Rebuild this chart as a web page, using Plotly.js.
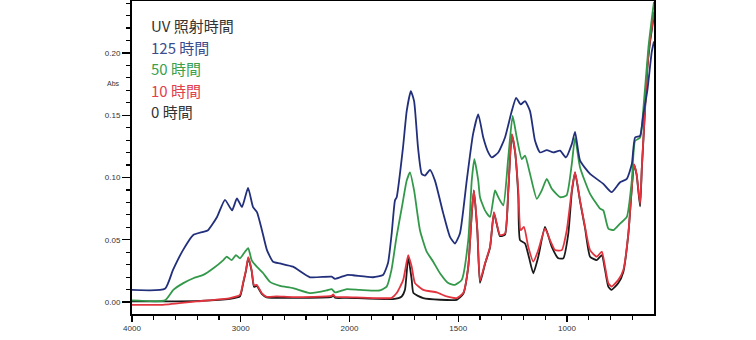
<!DOCTYPE html>
<html><head><meta charset="utf-8">
<script src="https://cdn.plot.ly/plotly-3.0.1.min.js"></script>
<style>html,body{margin:0;padding:0;background:#fff;}#chart{width:756px;height:340px;}</style>
</head><body><div id="chart"></div>
<script>
// Wavenumber (cm-1) and absorbance arrays for each UV exposure time
const wn125 = [4000,3697,3623,3531,3439,3347,3301,3218,3145,3080,3035,2989,2933,2887,2851,2805,2759,2703,2639,2520,2363,2164,2133,2025,1984,1892,1846,1823,1806,1791,1783,1754,1737,1718,1703,1685,1668,1653,1630,1607,1569,1538,1515,1492,1461,1432,1408,1385,1362,1346,1316,1285,1254,1234,1213,1193,1170,1147,1124,1093,1063,1032,1005,978,963,940,894,833,795,756,725,702,687,664,649,631,610,600];
const abs125 = [0.0098,0.0106,0.0258,0.0417,0.0537,0.0563,0.0577,0.0683,0.0821,0.0736,0.0832,0.0762,0.0917,0.0762,0.0722,0.0577,0.0417,0.0324,0.0310,0.0284,0.0199,0.0204,0.0186,0.0217,0.0215,0.0199,0.0217,0.0313,0.0552,0.0816,0.0842,0.1241,0.1533,0.1693,0.1613,0.1241,0.1029,0.1015,0.1061,0.0975,0.0712,0.0523,0.0470,0.0553,0.0975,0.1348,0.1507,0.1321,0.1201,0.1161,0.1201,0.1321,0.1533,0.1640,0.1587,0.1613,0.1533,0.1294,0.1201,0.1220,0.1201,0.1215,0.1161,0.1268,0.1366,0.1135,0.1029,0.0949,0.0882,0.0962,0.0989,0.1108,0.1321,0.1334,0.1507,0.1693,0.2012,0.2092];

const wn50 = [4000,3697,3620,3528,3436,3344,3252,3160,3129,3083,3044,3007,2961,2931,2900,2853,2793,2731,2639,2520,2363,2210,2164,2133,2025,1952,1860,1829,1807,1784,1756,1737,1722,1703,1676,1645,1615,1584,1546,1515,1484,1454,1438,1426,1408,1400,1377,1354,1331,1316,1293,1270,1250,1231,1208,1193,1170,1139,1116,1093,1070,1032,1002,978,963,940,894,848,833,810,787,756,725,702,687,664,646,626,606,600];
const abs50 = [0.0013,0.0013,0.0098,0.0152,0.0191,0.0218,0.0271,0.0337,0.0364,0.0337,0.0377,0.0351,0.0404,0.0433,0.0337,0.0284,0.0231,0.0162,0.0130,0.0112,0.0072,0.0093,0.0104,0.0077,0.0104,0.0098,0.0093,0.0124,0.0258,0.0521,0.0792,0.0975,0.1041,0.0896,0.0577,0.0404,0.0324,0.0231,0.0152,0.0138,0.0178,0.0497,0.0975,0.1148,0.0975,0.0842,0.0736,0.0683,0.0896,0.0842,0.0776,0.1161,0.1494,0.1321,0.1148,0.1175,0.1029,0.0829,0.0896,0.0989,0.0909,0.0842,0.0856,0.1108,0.1318,0.1081,0.0869,0.0750,0.0736,0.0590,0.0577,0.0630,0.0683,0.0975,0.1294,0.1321,0.1614,0.2038,0.2331,0.2410];

const wn10 = [4000,3715,3405,3099,3007,2977,2952,2931,2900,2878,2853,2807,2761,2669,2520,2164,2149,2133,2025,1891,1806,1783,1753,1730,1714,1699,1661,1599,1553,1507,1477,1454,1438,1428,1412,1400,1377,1354,1336,1323,1308,1285,1270,1254,1239,1224,1213,1198,1178,1155,1132,1101,1078,1055,1024,1001,978,963,940,917,894,863,840,825,810,795,764,741,718,702,692,680,664,656,646,631,619,606,600];
const abs10 = [-0.0022,-0.0022,0.0005,0.0032,0.0058,0.0162,0.0258,0.0361,0.0258,0.0134,0.0138,0.0072,0.0042,0.0045,0.0040,0.0050,0.0062,0.0042,0.0040,0.0032,0.0034,0.0072,0.0178,0.0377,0.0284,0.0152,0.0098,0.0077,0.0045,0.0032,0.0072,0.0284,0.0710,0.0896,0.0577,0.0170,0.0311,0.0443,0.0722,0.0630,0.0537,0.0550,0.0896,0.1348,0.1215,0.0896,0.0577,0.0603,0.0443,0.0324,0.0417,0.0590,0.0497,0.0417,0.0417,0.0577,0.0896,0.1043,0.0816,0.0603,0.0417,0.0364,0.0404,0.0284,0.0152,0.0124,0.0178,0.0258,0.0550,0.0922,0.1108,0.1029,0.0789,0.1081,0.1400,0.1879,0.2092,0.2251,0.2331];

const wn0 = [4000,3697,3375,3099,3007,2977,2952,2931,2900,2878,2853,2807,2761,2520,2164,2149,2133,2025,1800,1760,1745,1730,1714,1706,1661,1507,1477,1454,1438,1428,1412,1400,1377,1354,1336,1323,1308,1285,1270,1254,1239,1224,1216,1193,1174,1155,1132,1101,1070,1040,1017,994,978,963,940,917,894,863,840,825,810,795,764,741,718,702,692,680,664,656,646,631,619,606,600];
const abs0 = [0.0006,0.0006,0.0010,0.0026,0.0046,0.0154,0.0250,0.0353,0.0250,0.0122,0.0130,0.0066,0.0038,0.0034,0.0042,0.0054,0.0034,0.0034,0.0024,0.0045,0.0098,0.0361,0.0178,0.0072,0.0032,0.0018,0.0066,0.0284,0.0710,0.0896,0.0561,0.0154,0.0306,0.0437,0.0716,0.0624,0.0529,0.0541,0.0888,0.1342,0.1207,0.0856,0.0497,0.0470,0.0353,0.0231,0.0364,0.0603,0.0443,0.0351,0.0351,0.0550,0.0880,0.1039,0.0808,0.0593,0.0364,0.0337,0.0377,0.0258,0.0124,0.0098,0.0152,0.0242,0.0545,0.0915,0.1103,0.1023,0.0768,0.1071,0.1390,0.1868,0.2076,0.2235,0.2315];

const majorTicks = [4000,3000,2000,1500,1000];
const legendTitle = "UV 照射時間";
const seriesNames = ["125 時間","50 時間","10 時間","0 時間"];
const yLabel = "Abs";

// Instrument-style axis: scale doubles below 2000 cm-1
function toU(w){ return w >= 2000 ? (4000 - w) : (2000 + (2000 - w) * 2); }

const minorW = [];
for (let w = 3800; w > 2000; w -= 200) minorW.push(w);
for (let w = 1900; w >= 700; w -= 100) minorW.push(w);

const cBlue = '#22307c', cGreen = '#33994a', cRed = '#e2343e', cBlack = '#1a1a1a';
function tr(wn, ab, color){
  return {x: wn.map(toU), y: ab, type:'scatter', mode:'lines',
    line:{color:color, width:1.8, shape:'spline', smoothing:0.5}, showlegend:false, hoverinfo:'skip'};
}
const data = [tr(wn0,abs0,cBlack), tr(wn10,abs10,cRed), tr(wn50,abs50,cGreen), tr(wn125,abs125,cBlue)];

const ann = [];
const legColors = ['#3b4d8c','#3aa04c','#e2404c','#333333'];
ann.push({xref:'paper', yref:'paper', x:17/522, y:1-24/313, xanchor:'left', yanchor:'middle', text:legendTitle, showarrow:false, font:{size:15, color:'#333', family:'Noto Sans CJK JP'}});
seriesNames.forEach((n,i)=>{
  ann.push({xref:'paper', yref:'paper', x:17/522, y:1-(46+i*21.5)/313, xanchor:'left', yanchor:'middle', text:n, showarrow:false, font:{size:15, color:legColors[i], family:'Noto Sans CJK JP'}});
});
ann.push({xref:'paper', yref:'paper', x:-19/522, y:1-82/313, xanchor:'center', yanchor:'middle', text:yLabel, showarrow:false, font:{size:7, color:'#333', family:'Liberation Sans'}});

const layout = {
  width:756, height:340,
  margin:{l:132, r:102, t:1, b:26, pad:0},
  paper_bgcolor:'#fff', plot_bgcolor:'#fff',
  xaxis:{range:[0,4800], tickmode:'array', tickvals:majorTicks.map(toU), ticktext:majorTicks.map(String),
    showgrid:false, zeroline:false, showline:true, linecolor:'#000', linewidth:1.5, mirror:true,
    ticks:'outside', ticklen:6, tickwidth:1.3, tickcolor:'#000',
    tickfont:{size:8, color:'#333', family:'Liberation Sans'},
    minor:{tickmode:'array', tickvals:minorW.map(toU), ticks:'outside', ticklen:4, tickwidth:1.2, tickcolor:'#000', showgrid:false}},
  yaxis:{range:[-0.0096,0.2417], tickmode:'array', tickvals:[0,0.05,0.10,0.15,0.20], ticktext:['0.00','0.05','0.10','0.15','0.20'],
    showgrid:false, zeroline:false, showline:true, linecolor:'#000', linewidth:2, mirror:true,
    ticks:'outside', ticklen:8, tickwidth:1.3, tickcolor:'#000',
    tickfont:{size:8, color:'#333', family:'Liberation Sans'},
    minor:{dtick:0.01, tick0:0, ticks:'outside', ticklen:4, tickwidth:1.2, tickcolor:'#000', showgrid:false}},
  annotations:ann
};
Plotly.newPlot('chart', data, layout, {staticPlot:true, displayModeBar:false});
</script></body></html>
